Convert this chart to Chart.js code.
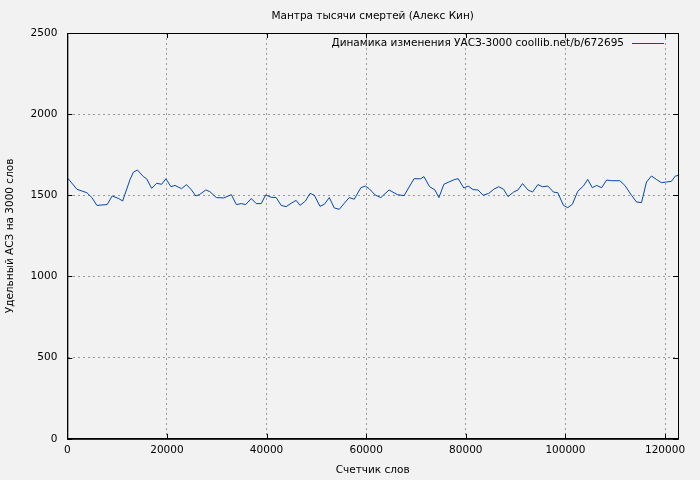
<!DOCTYPE html>
<html><head><meta charset="utf-8">
<script src="https://cdn.jsdelivr.net/npm/chart.js@4"></script>
<style>html,body{margin:0;background:#f2f2f2}#c{display:block}</style>
</head><body>
<div style="width:700px;height:480px"><canvas id="c"></canvas></div>
<script>
// Счетчик слов / значения УАСЗ-3000
const words = [0,1933,3933,4933,5933,8000,9000,10333,11100,12600,13270,14070,15270,15930,16930,17930,18930,19800,20800,21600,22930,23930,24930,25800,26600,27800,28600,29930,31400,32930,33930,34930,35800,36930,37930,38930,39800,40930,41930,42930,43930,44930,45930,46730,47800,48730,49600,50730,51600,52600,53600,54600,55600,56600,57600,58930,59800,60600,61800,62930,64600,66270,67600,69600,70930,71600,72730,73800,74600,75600,76600,77800,78470,79600,80470,81470,82470,83470,84600,85600,86600,87600,88470,89600,90470,91400,92470,93400,94470,95400,96470,97600,98470,99600,100470,101400,102470,103600,104470,105400,106270,107270,108270,109270,110930,111930,113270,114270,115270,116270,117270,118270,119270,120270,121270,122070,122600];
const values = [1609,1537,1516,1486,1438,1443,1496,1480,1465,1598,1643,1656,1615,1602,1543,1574,1568,1602,1553,1561,1541,1566,1533,1496,1506,1533,1523,1486,1484,1504,1443,1449,1443,1480,1449,1449,1502,1488,1486,1438,1430,1451,1469,1438,1465,1512,1500,1432,1445,1486,1422,1414,1451,1486,1476,1547,1557,1541,1502,1486,1533,1504,1498,1602,1602,1615,1553,1533,1486,1568,1582,1598,1602,1545,1557,1535,1533,1500,1512,1537,1553,1537,1492,1520,1533,1572,1533,1520,1566,1553,1557,1520,1516,1438,1424,1445,1525,1557,1598,1547,1561,1547,1594,1590,1590,1561,1500,1459,1455,1582,1619,1598,1578,1582,1586,1619,1622];
const xTicks = [0,20000,40000,60000,80000,100000,120000];
const yTicks = [0,500,1000,1500,2000,2500];
const chartTitle = 'Мантра тысячи смертей (Алекс Кин)';
const seriesLabel = 'Динамика изменения УАСЗ-3000 coollib.net/b/672695';
const FONT = 'DejaVu Sans';

const framePlugin = {
  id: 'gpFrame',
  afterDatasetsDraw(chart) {
    const {ctx, chartArea: a} = chart;
    ctx.save();
    ctx.strokeStyle = '#000';
    ctx.lineWidth = 1;
    ctx.strokeRect(a.left + 0.5, a.top + 0.5, a.right - a.left, a.bottom - a.top);
    // засечки внутрь
    ctx.beginPath();
    xTicks.forEach(v => {
      const x = Math.round(chart.scales.x.getPixelForValue(v)) + 0.5;
      ctx.moveTo(x, a.bottom); ctx.lineTo(x, a.bottom - 5);
      ctx.moveTo(x, a.top); ctx.lineTo(x, a.top + 5);
    });
    yTicks.forEach(v => {
      const y = Math.round(chart.scales.y.getPixelForValue(v)) + 0.5;
      ctx.moveTo(a.left, y); ctx.lineTo(a.left + 5, y);
      ctx.moveTo(a.right, y); ctx.lineTo(a.right - 5, y);
    });
    ctx.stroke();
    ctx.font = '10.5px ' + FONT;
    ctx.fillStyle = '#000';
    ctx.textBaseline = 'middle';
    ctx.textAlign = 'center';
    ctx.fillText(chartTitle, (a.left + a.right) / 2, 16);
    ctx.textAlign = 'right';
    const y = a.top + 10;
    ctx.fillText(seriesLabel, a.right - 54, y);
    ctx.strokeStyle = '#0047b3';
    ctx.beginPath();
    ctx.moveTo(a.right - 46, y + 0.5);
    ctx.lineTo(a.right - 14, y + 0.5);
    ctx.stroke();
    ctx.restore();
  }
};

const tickFont = { family: FONT, size: 10.5 };
new Chart(document.getElementById('c'), {
  type: 'line',
  data: { datasets: [{
    label: seriesLabel,
    data: words.map((w, i) => ({x: w, y: values[i]})),
    borderColor: '#0047b3', borderWidth: 1, pointRadius: 0, tension: 0
  }]},
  options: {
    responsive: true, maintainAspectRatio: false, animation: false,
    layout: { padding: { top: 33, right: 22, left: 0, bottom: 0 } },
    plugins: { legend: { display: false }, tooltip: { enabled: false } },
    scales: {
      x: { type: 'linear', min: 0, max: 122600,
        afterBuildTicks: s => { s.ticks = xTicks.map(v => ({value: v})); },
        grid: { color: '#999', drawTicks: false },
        border: { color: '#000', width: 1, dash: [2, 3] },
        ticks: { color: '#000', font: tickFont, padding: 5, maxRotation: 0, callback: v => String(v) },
        title: { display: true, text: 'Счетчик слов', color: '#000', font: tickFont, padding: 3 } },
      y: { min: 0, max: 2500,
        afterBuildTicks: s => { s.ticks = yTicks.map(v => ({value: v})); },
        grid: { color: '#999', drawTicks: false },
        border: { color: '#000', width: 1, dash: [2, 3] },
        ticks: { color: '#000', font: tickFont, padding: 10, callback: v => String(v) },
        title: { display: true, text: 'Удельный АСЗ на 3000 слов', color: '#000', font: tickFont, padding: 4 } }
    }
  },
  plugins: [framePlugin]
});
</script>
</body></html>
